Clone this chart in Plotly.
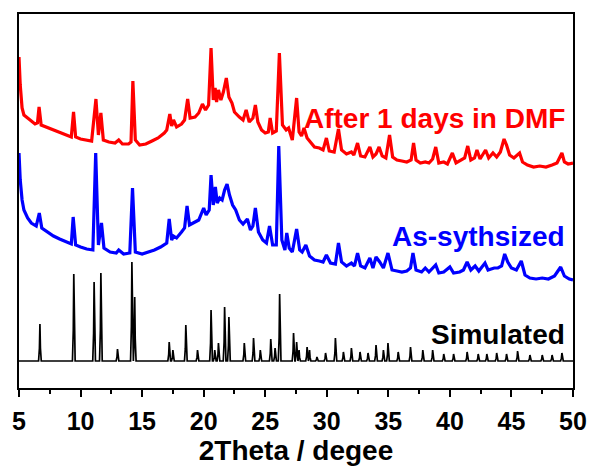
import plotly.graph_objects as go

# ---------------- data (intensity in arbitrary units, offset patterns) ----------------
# Simulated pattern: peak positions (2theta) and peak heights, flat baseline
SIM_BASE = 27
SIM_POS = [6.7, 9.45, 11.1, 11.65, 13.0, 14.17, 14.4, 17.2, 17.5, 18.55, 19.5, 20.6, 20.9, 21.2,
           21.7, 22.05, 23.3, 24.05, 24.6, 25.45, 25.8, 26.17, 27.3, 27.55, 27.75, 28.4, 28.6,
           29.2, 29.9, 30.7, 31.35, 32.0, 32.7, 33.35, 34.0, 34.6, 34.97, 35.8, 36.8, 37.8, 38.6,
           39.5, 40.3, 41.4, 42.3, 43.0, 43.8, 44.6, 45.5, 46.5, 47.5, 48.3, 49.1]
SIM_H = [64, 114, 106, 115, 39, 126, 91, 46, 38, 63, 38, 78, 38, 45,
         81, 71, 45, 50, 38, 49, 40, 94, 55, 46, 38, 41, 38,
         31, 35, 50, 36, 40, 36, 35, 43, 38, 45, 36, 41, 38, 38,
         34, 34, 36, 34, 34, 35, 34, 37, 33, 33, 33, 35]

# As-synthesized pattern (blue)
AS_X = [5.0, 5.1, 5.25, 5.4, 5.7, 6.0, 6.4, 6.65, 6.85, 7.3, 7.8, 8.3, 8.8, 9.25, 9.4, 9.6, 10.0,
        10.5, 11.0, 11.23, 11.45, 11.7, 11.9, 12.4, 12.9, 13.1, 13.5, 14.0, 14.22, 14.45, 15.0,
        15.5, 16.0, 16.5, 17.0, 17.2, 17.4, 17.55, 17.8, 18.2, 18.45, 18.65, 18.85, 19.3, 19.6,
        20.0, 20.2, 20.45, 20.6, 20.78, 20.95, 21.1, 21.3, 21.5, 21.7, 21.9, 22.1, 22.35, 22.6,
        22.9, 23.2, 23.55, 23.8, 24.0, 24.2, 24.45, 24.8, 25.1, 25.35, 25.6, 25.9, 26.1, 26.35,
        26.6, 26.75, 26.95, 27.2, 27.55, 27.8, 28.0, 28.3, 28.6, 29.0, 29.4, 29.7, 29.97, 30.3,
        30.7, 30.95, 31.2, 31.6, 32.0, 32.25, 32.5, 32.75, 33.1, 33.5, 33.75, 34.0, 34.3, 34.6,
        34.97, 35.3, 35.7, 36.1, 36.5, 36.8, 37.0, 37.25, 37.7, 38.0, 38.3, 38.85, 39.1, 39.5,
        40.0, 40.3, 40.8, 41.1, 41.4, 41.7, 42.05, 42.35, 42.85, 43.1, 43.6, 43.9, 44.2, 44.45,
        44.7, 45.0, 45.4, 45.8, 46.1, 46.5, 47.0, 47.5, 48.0, 48.5, 49.0, 49.3, 49.7, 50.0]
AS_Y = [235, 208, 188, 178, 170, 165, 162, 175, 160, 156, 152, 149, 146, 144, 171, 143, 141,
        139, 138, 235, 143, 165, 140, 136, 135, 138, 134, 135, 200, 136, 134,
        136, 138, 141, 145, 169, 148, 152, 150, 156, 160, 182, 163, 166, 168,
        180, 173, 178, 213, 183, 201, 185, 190, 188, 198, 204, 193, 183, 178,
        168, 164, 169, 158, 162, 180, 156, 148, 145, 162, 143, 143, 242, 148,
        138, 155, 140, 136, 159, 138, 136, 143, 132, 128, 127, 126, 133, 125,
        124, 145, 126, 122, 125, 122, 135, 122, 120, 130, 120, 131, 126, 120,
        135, 118, 117, 116, 117, 120, 135, 118, 116, 120, 116, 123, 115, 116,
        121, 115, 116, 118, 126, 118, 122, 117, 125, 118, 120, 120, 122, 134,
        126, 120, 118, 127, 113, 110, 109, 110, 109, 112, 121, 112, 109, 108]

# After 1 day in DMF pattern (red)
DMF_X = [5.0, 5.1, 5.25, 5.4, 5.7, 6.0, 6.3, 6.5, 6.63, 6.8, 7.2, 7.6, 8.0, 8.4, 8.8, 9.25, 9.43,
         9.6, 10.0, 10.5, 10.9, 11.25, 11.45, 11.65, 11.85, 12.3, 12.8, 13.1, 13.4, 13.9, 14.1,
         14.25, 14.45, 14.8, 15.3, 15.8, 16.3, 16.8, 17.0, 17.25, 17.4, 17.55, 17.8, 18.2, 18.45,
         18.7, 18.9, 19.3, 19.6, 19.9, 20.15, 20.4, 20.6, 20.78, 20.93, 21.05, 21.2, 21.4, 21.6,
         21.84, 22.05, 22.3, 22.5, 22.9, 23.2, 23.45, 23.7, 24.0, 24.2, 24.4, 24.7, 25.0, 25.25,
         25.4, 25.6, 25.9, 26.15, 26.4, 26.7, 26.9, 27.2, 27.55, 27.75, 27.95, 28.15, 28.4, 28.7,
         29.0, 29.4, 29.7, 29.97, 30.2, 30.6, 30.95, 31.2, 31.6, 32.0, 32.2, 32.5, 32.75, 33.1,
         33.5, 33.75, 34.0, 34.25, 34.5, 34.8, 35.1, 35.35, 35.7, 36.1, 36.5, 36.85, 37.05, 37.25,
         37.6, 38.0, 38.3, 38.6, 38.85, 39.1, 39.5, 39.8, 40.2, 40.5, 40.9, 41.2, 41.45, 41.7,
         42.0, 42.2, 42.45, 42.9, 43.15, 43.5, 43.8, 44.1, 44.4, 44.6, 44.85, 45.2, 45.66, 45.9,
         46.3, 46.8, 47.3, 47.8, 48.3, 48.7, 49.1, 49.3, 49.6, 50.0]
DMF_Y = [331, 303, 280, 273, 270, 267, 264, 265, 281, 263, 261, 259, 257, 255, 253, 251, 276,
         251, 249, 248, 247, 289, 253, 275, 248, 246, 245, 248, 244, 244, 246,
         307, 248, 243, 244, 247, 250, 255, 258, 274, 262, 268, 261, 264, 268,
         289, 270, 271, 275, 284, 278, 283, 340, 288, 300, 286, 298, 288, 296,
         310, 291, 285, 276, 271, 268, 278, 266, 270, 283, 266, 258, 255, 256,
         270, 255, 257, 335, 263, 258, 260, 248, 290, 256, 252, 260, 250, 245,
         241, 240, 238, 250, 237, 236, 259, 238, 234, 236, 233, 245, 232, 231,
         241, 231, 234, 241, 232, 230, 253, 231, 228, 227, 226, 228, 245, 228,
         225, 226, 225, 229, 241, 225, 226, 224, 235, 225, 228, 230, 242, 228,
         230, 238, 229, 238, 230, 235, 231, 236, 249, 243, 233, 230, 235, 226,
         223, 221, 222, 221, 223, 225, 235, 226, 224, 225]

X_TICKS = [5, 10, 15, 20, 25, 30, 35, 40, 45, 50]
LABELS = ["After 1 days in DMF", "As-sythsized", "Simulated"]
LABEL_Y = [270, 152, 54]
COLORS = ["#FF0000", "#0000FF", "#000000"]

# build simulated stick-like profile from the peak table
sim_pts = [(5.0, SIM_BASE), (50.0, SIM_BASE)]
for p, h in zip(SIM_POS, SIM_H):
    sim_pts += [(p - 0.11, SIM_BASE), (p - 0.04, SIM_BASE + (h - SIM_BASE) * 0.35),
                (p, h),
                (p + 0.04, SIM_BASE + (h - SIM_BASE) * 0.35), (p + 0.11, SIM_BASE)]
sim_pts.sort()
sim_x = [a for a, _ in sim_pts]
sim_y = [b for _, b in sim_pts]

FONT = "Liberation Sans, Arial, sans-serif"

fig = go.Figure()
fig.add_trace(go.Scatter(x=sim_x, y=sim_y, mode="lines",
                         line=dict(color=COLORS[2], width=1.7), name=LABELS[2]))
fig.add_trace(go.Scatter(x=AS_X, y=AS_Y, mode="lines",
                         line=dict(color=COLORS[1], width=3.2), name=LABELS[1]))
fig.add_trace(go.Scatter(x=DMF_X, y=DMF_Y, mode="lines",
                         line=dict(color=COLORS[0], width=3.2), name=LABELS[0]))

for txt, yy, c in zip(LABELS, LABEL_Y, COLORS):
    fig.add_annotation(x=49.5, y=yy, xref="x", yref="y", text=txt, showarrow=False,
                       xanchor="right", yanchor="middle",
                       font=dict(family=FONT, size=28, color=c, weight="bold"))

fig.update_layout(
    width=599, height=468,
    margin=dict(l=18, r=20, t=14, b=80),
    paper_bgcolor="white", plot_bgcolor="white",
    showlegend=False,
    xaxis=dict(range=[5, 50], tickvals=X_TICKS, ticks="outside", ticklen=7, tickwidth=2,
               tickcolor="black", showline=True, linecolor="black", linewidth=2, mirror=True,
               showgrid=False, zeroline=False, ticklabelstandoff=3,
               minor=dict(dtick=2.5, ticks="outside", ticklen=4, tickwidth=2, tickcolor="black"),
               tickfont=dict(family=FONT, size=25, color="black", weight="bold"),
               title=dict(text="2Theta / degee", standoff=0,
                          font=dict(family=FONT, size=28, color="black", weight="bold"))),
    yaxis=dict(range=[0, 374], showticklabels=False, ticks="", showline=True, linecolor="black",
               linewidth=2, mirror=True, showgrid=False, zeroline=False),
)

fig.write_html("out.html")
